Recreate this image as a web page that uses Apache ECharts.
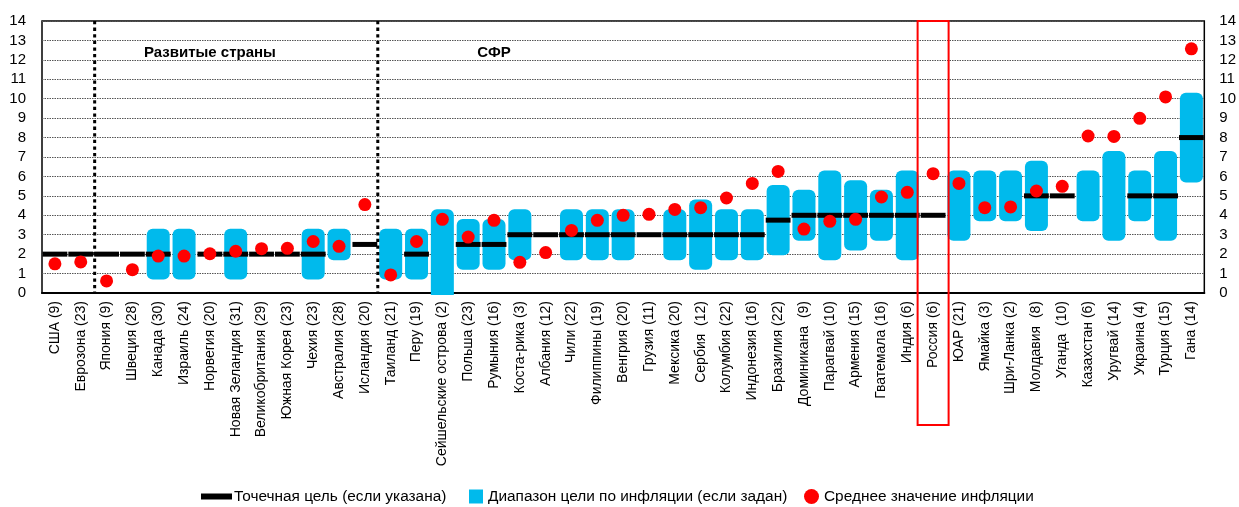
<!DOCTYPE html>
<html>
<head>
<meta charset="utf-8">
<script src="https://cdn.jsdelivr.net/npm/echarts@6.0.0/dist/echarts.min.js"></script>
<style>
  html, body { margin: 0; padding: 0; background: #fff; }
  #chart { width: 1239px; height: 507px; }
</style>
</head>
<body>
<div id="chart"></div>
<script>
const categories = [
  'США (9)', 'Еврозона (23)', 'Япония (9)', 'Швеция (28)', 'Канада (30)', 'Израиль (24)',
  'Норвегия (20)', 'Новая Зеландия (31)', 'Великобритания (29)', 'Южная Корея (23)', 'Чехия (23)',
  'Австралия (28)', 'Исландия (20)', 'Таиланд (21)', 'Перу (19)', 'Сейшельские острова (2)',
  'Польша (23)', 'Румыния (16)', 'Коста-рика (3)', 'Албания (12)', 'Чили (22)', 'Филиппины (19)',
  'Венгрия (20)', 'Грузия (11)', 'Мексика (20)', 'Сербия  (12)', 'Колумбия (22)', 'Индонезия (16)',
  'Бразилия (22)', 'Доминикана  (9)', 'Парагвай (10)', 'Армения (15)', 'Гватемала (16)', 'Индия (6)',
  'Россия (6)', 'ЮАР (21)', 'Ямайка (3)', 'Шри-Ланка (2)', 'Молдавия  (8)', 'Уганда  (10)',
  'Казахстан (6)', 'Уругвай (14)', 'Украина (4)', 'Турция (15)', 'Гана (14)'
]

// точечная цель
const pointTarget = [
  2, 2, 2, 2, 2, null, 2, 2, 2, 2, 2, null, 2.5, null, 2, null, 2.5, 2.5,
  3, 3, 3, 3, 3, 3, 3, 3, 3, 3, 3.75, 4, 4, 4, 4, 4, 4,
  null, null, null, 5, 5, null, null, 5, 5, 8
]

// диапазон цели
const rangeLow = [
  null, null, null, null, 1, 1, null, 1, null, null, 1, 2, null, 1, 1, 0, 1.5, 1.5,
  2, null, 2, 2, 2, null, 2, 1.5, 2, 2, 2.25, 3, 2, 2.5, 3, 2, null,
  3, 4, 4, 3.5, null, 4, 3, 4, 3, 6
]
const rangeHigh = [
  null, null, null, null, 3, 3, null, 3, null, null, 3, 3, null, 3, 3, 4, 3.5, 3.5,
  4, null, 4, 4, 4, null, 4, 4.5, 4, 4, 5.25, 5, 6, 5.5, 5, 6, null,
  6, 6, 6, 6.5, null, 6, 7, 6, 7, 10
]

// среднее значение инфляции
const meanInflation = [
  1.5, 1.6, 0.62, 1.2, 1.9, 1.9, 2.02, 2.15, 2.28, 2.3, 2.65, 2.4, 4.55, 0.93, 2.65, 3.79,
  2.88, 3.74, 1.58, 2.08, 3.22, 3.74, 4.0, 4.05, 4.3, 4.39, 4.89, 5.64, 6.26, 3.29, 3.69,
  3.79, 4.94, 5.18, 6.14, 5.64, 4.39, 4.43, 5.25, 5.49, 8.08, 8.06, 8.99, 10.09, 12.57
]

const yTicks = [0, 14, 1]

const nameTarget = 'Точечная цель (если указана)'
const nameRange = 'Диапазон цели по инфляции (если задан)'
const nameMean = 'Среднее значение инфляции'

const font = '"Liberation Sans", Arial, sans-serif'

const rangeData = []
rangeLow.forEach((lo, i) => {
  if (lo !== null && rangeHigh[i] !== null) rangeData.push([i, lo, rangeHigh[i]])
})
const targetData = []
pointTarget.forEach((v, i) => {
  if (v !== null) targetData.push([i, v])
})

const chart = echarts.init(document.getElementById('chart'))

const legendText = { fontFamily: font, fontSize: 15.4, color: '#000' }

const option = {
  animation: false,
  backgroundColor: '#fff',
  grid: {
    left: 42,
    right: 32,
    top: 21,
    bottom: 214,
    show: true,
    borderColor: '#000',
    borderWidth: 1.5,
  },
  legend: [
    {
      left: 196, top: 484, itemWidth: 31, itemHeight: 6, selectedMode: false,
      data: [{ name: nameTarget, icon: 'rect' }],
      textStyle: Object.assign({ padding: [0, 0, 0, -3] }, legendText),
    },
    {
      left: 464, top: 484, itemWidth: 14, itemHeight: 14, selectedMode: false,
      data: [{ name: nameRange, icon: 'rect' }],
      textStyle: legendText,
    },
    {
      left: 799, top: 484, itemWidth: 15, itemHeight: 15, selectedMode: false,
      data: [{ name: nameMean, icon: 'circle' }],
      textStyle: legendText,
    },
  ],
  xAxis: {
    type: 'category',
    data: categories,
    axisTick: { show: false },
    axisLine: { lineStyle: { color: '#000', width: 2 } },
    axisLabel: {
      rotate: 90,
      interval: 0,
      margin: 8,
      fontFamily: font,
      fontSize: 14,
      color: '#000',
    },
  },
  yAxis: [
    {
      type: 'value',
      min: yTicks[0],
      max: yTicks[1],
      interval: yTicks[2],
      axisLine: { show: false },
      axisTick: { show: false },
      axisLabel: { margin: 16, fontFamily: font, fontSize: 15, color: '#000' },
      splitLine: { lineStyle: { color: '#555', type: [1.5, 1], width: 1 } },
    },
    {
      type: 'value',
      min: yTicks[0],
      max: yTicks[1],
      interval: yTicks[2],
      position: 'right',
      axisLine: { show: false },
      axisTick: { show: false },
      axisLabel: { margin: 15, fontFamily: font, fontSize: 15, color: '#000' },
      splitLine: { show: false },
    },
  ],
  series: [
    {
      name: nameRange,
      type: 'custom',
      z: 2,
      itemStyle: { color: '#00BAEC' },
      data: rangeData,
      renderItem: (params, api) => {
        const x = api.value(0)
        const top = api.coord([x, api.value(2)])
        const bot = api.coord([x, api.value(1)])
        const zero = api.coord([x, 0])[1]
        const w = 23
        const pad = 6
        const y0 = top[1] - pad
        const cut = bot[1] + pad > zero + 2
        const y1 = cut ? zero + 2 : bot[1] + pad
        return {
          type: 'rect',
          shape: { x: top[0] - w / 2, y: y0, width: w, height: y1 - y0, r: [6, 6, cut ? 0 : 6, cut ? 0 : 6] },
          style: { fill: '#00BAEC' },
        }
      },
    },
    {
      name: nameTarget,
      type: 'custom',
      z: 3,
      itemStyle: { color: '#000' },
      data: targetData,
      renderItem: (params, api) => {
        const p = api.coord([api.value(0), api.value(1)])
        const w = api.size([1, 0])[0] - 1
        return {
          type: 'rect',
          shape: { x: p[0] - w / 2, y: p[1] - 2.5, width: w, height: 5 },
          style: { fill: '#000' },
        }
      },
    },
    {
      name: nameMean,
      type: 'scatter',
      z: 4,
      symbol: 'circle',
      symbolSize: 13,
      itemStyle: { color: '#FF0000', opacity: 1 },
      data: meanInflation,
    },
  ],
}

chart.setOption(option)

// подписи групп, разделители и рамка вокруг России
const px = (cat, v) => chart.convertToPixel({ xAxisIndex: 0, yAxisIndex: 0 }, [cat, v])
const gTop = px(0, 14)[1]
const gBot = px(0, 0)[1]
const sepX = (i) => (px(i - 1, 0)[0] + px(i, 0)[0]) / 2
const ru = px(categories.indexOf('Россия (6)'), 0)[0]

chart.setOption({
  graphic: [
    {
      type: 'line', z: 10,
      shape: { x1: sepX(2) + 1, y1: gTop, x2: sepX(2) + 1, y2: gBot },
      style: { stroke: '#000', lineWidth: 3, lineDash: [3.3, 3.3] },
    },
    {
      type: 'line', z: 10,
      shape: { x1: sepX(13), y1: gTop, x2: sepX(13), y2: gBot },
      style: { stroke: '#000', lineWidth: 3, lineDash: [3.3, 3.3] },
    },
    {
      type: 'text', z: 10,
      x: px(6, 12.35)[0], y: px(6, 12.35)[1],
      style: { text: 'Развитые страны', fontFamily: font, fontWeight: 'bold', fontSize: 15, fill: '#000', align: 'center', verticalAlign: 'middle' },
    },
    {
      type: 'text', z: 10,
      x: px(17, 12.35)[0], y: px(17, 12.35)[1],
      style: { text: 'СФР', fontFamily: font, fontWeight: 'bold', fontSize: 15, fill: '#000', align: 'center', verticalAlign: 'middle' },
    },
    {
      type: 'rect', z: 10,
      shape: { x: ru - 15.5, y: gTop, width: 31, height: 425 - gTop },
      style: { fill: 'none', stroke: '#FF0000', lineWidth: 2 },
    },
  ],
})
</script>
</body>
</html>
